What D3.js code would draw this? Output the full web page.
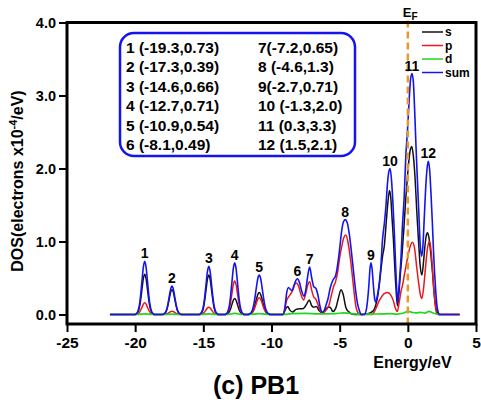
<!DOCTYPE html>
<html>
<head>
<meta charset="utf-8">
<script src="https://cdn.jsdelivr.net/npm/d3@7"></script>
<style>
  html, body { margin: 0; padding: 0; background: #fff; }
  svg { display: block; font-family: "Liberation Sans", Arial, Helvetica, sans-serif; font-weight: bold; }
</style>
</head>
<body>
<svg id="chart" width="481" height="407"></svg>
<script>
// Partial densities of states of PB1: [energy (eV), DOS (electrons x10^-4 / eV)]
const sDos = [
  [-21.85,0],
  [-20.02,0],[-19.92,0.007],[-19.8,0.033],[-19.7,0.088],[-19.6,0.198],[-19.5,0.347],[-19.4,0.49],[-19.3,0.55],[-19.2,0.49],[-19.1,0.347],[-19.0,0.198],[-18.9,0.088],[-18.8,0.033],[-18.68,0.007],[-18.58,0],
  [-18.02,0],[-17.92,0.004],[-17.8,0.02],[-17.7,0.054],[-17.6,0.122],[-17.5,0.214],[-17.4,0.303],[-17.3,0.34],[-17.2,0.303],[-17.1,0.214],[-17.0,0.122],[-16.9,0.054],[-16.8,0.02],[-16.68,0.004],[-16.58,0],
  [-15.32,0],[-15.22,0.006],[-15.1,0.032],[-15.0,0.086],[-14.9,0.194],[-14.8,0.34],[-14.7,0.48],[-14.6,0.54],[-14.5,0.48],[-14.4,0.34],[-14.3,0.194],[-14.2,0.086],[-14.1,0.032],[-13.98,0.006],[-13.88,0],
  [-13.42,0],[-13.32,0.003],[-13.2,0.013],[-13.1,0.035],[-13.0,0.079],[-12.9,0.139],[-12.8,0.196],[-12.7,0.22],[-12.6,0.196],[-12.5,0.139],[-12.4,0.079],[-12.3,0.035],[-12.2,0.013],[-12.08,0.003],[-11.98,0],
  [-11.75,0],[-11.62,0.003],[-11.5,0.013],[-11.4,0.034],[-11.3,0.075],[-11.2,0.138],[-11.1,0.213],[-11.0,0.276],[-10.9,0.30],[-10.8,0.276],[-10.7,0.213],[-10.6,0.138],[-10.5,0.075],[-10.4,0.034],[-10.3,0.013],[-10.18,0.003],[-10.05,0],
  [-9.15,0],[-9.0,0.06],[-8.82,0.11],[-8.65,0.06],[-8.45,0.035],[-8.2,0.07],[-7.95,0.08],[-7.7,0.08],[-7.4,0.15],[-7.23,0.2],[-7.05,0.12],[-6.9,0.1],[-6.7,0.11],[-6.5,0.05],[-6.3,0.02],
  [-6.1,0.05],[-5.85,0.1],[-5.7,0.1],[-5.5,0.04],[-5.3,0.08],[-5.1,0.22],[-4.9,0.34],[-4.75,0.28],[-4.55,0.1],[-4.35,0.04],[-4.15,0.01],[-3.9,0],
  [-3.4,0],[-3.0,0.01],[-2.7,0.03],[-2.5,0.06],[-2.35,0.13],[-2.22,0.24],[-2.1,0.4],[-1.98,0.6],[-1.86,0.79],[-1.72,0.95],[-1.61,1.2],[-1.48,1.5],[-1.35,1.7],[-1.25,1.6],
  [-1.15,1.3],[-1.05,1.0],[-0.95,0.62],[-0.85,0.3],[-0.76,0.12],[-0.65,0.3],[-0.55,0.55],[-0.44,0.79],[-0.3,1.15],[-0.14,1.62],[0.0,1.95],[0.1,2.15],[0.2,2.27],[0.29,2.3],
  [0.4,2.18],[0.54,1.84],[0.66,1.4],[0.78,1.02],[0.9,0.68],[1.03,0.54],[1.15,0.72],[1.25,0.93],[1.35,1.08],[1.44,1.12],[1.55,1.05],[1.68,0.84],[1.8,0.6],[1.93,0.29],
  [2.05,0.1],[2.17,0.03],[2.3,0],[3.8,0]
];

const pDos = [
  [-21.85,0],
  [-20.02,0],[-19.92,0.002],[-19.8,0.01],[-19.7,0.026],[-19.6,0.058],[-19.5,0.10],[-19.4,0.142],[-19.3,0.16],[-19.2,0.142],[-19.1,0.10],[-19.0,0.058],[-18.9,0.026],[-18.8,0.01],[-18.68,0.002],[-18.58,0],
  [-18.02,0],[-17.92,0.0005],[-17.8,0.003],[-17.7,0.007],[-17.6,0.016],[-17.5,0.028],[-17.4,0.04],[-17.3,0.045],[-17.2,0.04],[-17.1,0.028],[-17.0,0.016],[-16.9,0.007],[-16.8,0.003],[-16.68,0.0005],[-16.58,0],
  [-15.32,0],[-15.22,0.001],[-15.1,0.006],[-15.0,0.016],[-14.9,0.036],[-14.8,0.063],[-14.7,0.089],[-14.6,0.10],[-14.5,0.089],[-14.4,0.063],[-14.3,0.036],[-14.2,0.016],[-14.1,0.006],[-13.98,0.001],[-13.88,0],
  [-13.42,0],[-13.32,0.006],[-13.2,0.028],[-13.1,0.074],[-13.0,0.166],[-12.9,0.29],[-12.8,0.41],[-12.7,0.46],[-12.6,0.41],[-12.5,0.29],[-12.4,0.166],[-12.3,0.074],[-12.2,0.028],[-12.08,0.006],[-11.98,0],
  [-11.75,0],[-11.62,0.003],[-11.5,0.01],[-11.4,0.026],[-11.3,0.058],[-11.2,0.106],[-11.1,0.163],[-11.0,0.212],[-10.9,0.23],[-10.8,0.212],[-10.7,0.163],[-10.6,0.106],[-10.5,0.058],[-10.4,0.026],[-10.3,0.01],[-10.18,0.003],[-10.05,0],
  [-9.15,0],[-9.0,0.1],[-8.88,0.2],[-8.75,0.24],[-8.6,0.28],[-8.45,0.33],[-8.3,0.41],[-8.17,0.43],[-8.0,0.38],[-7.85,0.28],[-7.65,0.2],[-7.5,0.28],[-7.35,0.40],[-7.2,0.45],
  [-7.05,0.33],[-6.9,0.24],[-6.75,0.21],[-6.6,0.14],[-6.45,0.06],[-6.3,0.01],[-6.15,0.03],[-6.0,0.06],[-5.8,0.12],[-5.6,0.27],[-5.45,0.38],[-5.3,0.45],[-5.15,0.58],
  [-5.0,0.78],[-4.85,0.93],[-4.7,1.05],[-4.55,1.09],[-4.4,1.0],[-4.25,0.82],[-4.1,0.58],[-3.95,0.32],[-3.8,0.1],[-3.65,0.02],[-3.5,0],
  [-2.6,0],[-2.45,0.04],[-2.3,0.1],[-2.15,0.17],[-2.0,0.22],[-1.86,0.26],[-1.7,0.29],[-1.5,0.30],[-1.35,0.29],[-1.2,0.25],[-1.05,0.18],[-0.92,0.09],[-0.78,0.04],
  [-0.63,0.17],[-0.5,0.32],[-0.39,0.40],[-0.25,0.55],[-0.1,0.7],[0.1,0.88],[0.22,0.96],[0.34,0.99],[0.5,0.9],[0.65,0.65],[0.8,0.42],[0.92,0.27],[1.03,0.22],
  [1.15,0.35],[1.3,0.65],[1.45,0.92],[1.6,1.0],[1.72,0.85],[1.85,0.5],[1.95,0.25],[2.05,0.07],[2.15,0],[3.8,0]
];

const dDos = [
  [-21.85,0],[-19.9,0],[-19.3,0.01],[-18.7,0],[-17.9,0],[-17.3,0.006],[-16.7,0],[-15.2,0],[-14.6,0.01],[-14.0,0],[-13.3,0],[-12.7,0.015],[-12.1,0],
  [-11.7,0],[-10.9,0.012],[-10.1,0],[-9.15,0],[-8.5,0.012],[-7.5,0.015],[-6.6,0.01],[-6.0,0.01],[-5.3,0.012],[-4.7,0.022],[-4.0,0.01],[-3.4,0.003],
  [-2.7,0.006],[-1.9,0.008],[-1.3,0.012],[-0.76,0.006],[-0.3,0.02],[0.0,0.042],[0.3,0.03],[0.6,0.022],[0.95,0.028],[1.25,0.02],[1.55,0.042],[1.85,0.02],[2.3,0]
];

const sumDos = [
  [-21.85,0],
  [-20.02,0],[-19.92,0.009],[-19.8,0.044],[-19.7,0.117],[-19.6,0.263],[-19.5,0.46],[-19.4,0.65],[-19.3,0.73],[-19.2,0.65],[-19.1,0.46],[-19.0,0.263],[-18.9,0.117],[-18.8,0.044],[-18.68,0.009],[-18.58,0],
  [-18.02,0],[-17.92,0.005],[-17.8,0.023],[-17.7,0.062],[-17.6,0.14],[-17.5,0.246],[-17.4,0.347],[-17.3,0.39],[-17.2,0.347],[-17.1,0.246],[-17.0,0.14],[-16.9,0.062],[-16.8,0.023],[-16.68,0.005],[-16.58,0],
  [-15.32,0],[-15.22,0.008],[-15.1,0.04],[-15.0,0.106],[-14.9,0.238],[-14.8,0.416],[-14.7,0.587],[-14.6,0.66],[-14.5,0.587],[-14.4,0.416],[-14.3,0.238],[-14.2,0.106],[-14.1,0.04],[-13.98,0.008],[-13.88,0],
  [-13.42,0],[-13.32,0.009],[-13.2,0.043],[-13.1,0.114],[-13.0,0.256],[-12.9,0.447],[-12.8,0.632],[-12.7,0.71],[-12.6,0.632],[-12.5,0.447],[-12.4,0.256],[-12.3,0.114],[-12.2,0.043],[-12.08,0.009],[-11.98,0],
  [-11.75,0],[-11.62,0.006],[-11.5,0.024],[-11.4,0.062],[-11.3,0.135],[-11.2,0.248],[-11.1,0.383],[-11.0,0.497],[-10.9,0.54],[-10.8,0.497],[-10.7,0.383],[-10.6,0.248],[-10.5,0.135],[-10.4,0.062],[-10.3,0.024],[-10.18,0.006],[-10.05,0],
  [-9.15,0],[-9.0,0.12],[-8.9,0.28],[-8.75,0.37],[-8.6,0.34],[-8.48,0.33],[-8.35,0.40],[-8.2,0.47],[-8.1,0.49],[-7.95,0.44],[-7.8,0.33],[-7.62,0.25],[-7.5,0.32],
  [-7.35,0.52],[-7.2,0.65],[-7.05,0.50],[-6.9,0.38],[-6.75,0.36],[-6.6,0.27],[-6.45,0.12],[-6.3,0.03],
  [-6.15,0.05],[-6.0,0.13],[-5.85,0.22],[-5.7,0.36],[-5.5,0.47],[-5.3,0.53],[-5.15,0.68],[-5.0,0.90],[-4.85,1.15],[-4.72,1.27],[-4.6,1.30],[-4.45,1.26],
  [-4.3,1.11],[-4.15,0.88],[-4.0,0.62],[-3.85,0.36],[-3.7,0.16],[-3.55,0.05],[-3.42,0],
  [-3.2,0],[-3.05,0.06],[-2.95,0.2],[-2.85,0.42],[-2.78,0.62],[-2.7,0.71],[-2.62,0.62],[-2.52,0.38],[-2.42,0.2],[-2.35,0.17],[-2.25,0.24],
  [-2.1,0.42],[-1.98,0.65],[-1.86,1.02],[-1.72,1.25],[-1.6,1.5],[-1.5,1.78],[-1.4,1.95],[-1.3,2.0],[-1.2,1.85],[-1.1,1.55],[-1.0,1.16],[-0.9,0.70],[-0.82,0.35],[-0.76,0.16],
  [-0.68,0.3],[-0.58,0.55],[-0.5,0.78],[-0.4,1.2],[-0.27,1.6],[-0.14,2.2],[-0.03,2.5],[0.1,2.95],[0.2,3.22],[0.3,3.3],[0.4,3.2],[0.5,2.8],[0.6,2.3],[0.7,1.85],
  [0.8,1.42],[0.9,0.98],[1.0,0.8],[1.1,0.92],[1.2,1.3],[1.3,1.7],[1.4,1.98],[1.5,2.1],[1.6,1.98],[1.7,1.65],[1.8,1.25],[1.88,0.88],[1.96,0.58],[2.05,0.31],
  [2.15,0.1],[2.25,0.02],[2.35,0],[3.8,0]
];

// Labelled maxima of the total DOS
const peakIds    = [1, 2, 3, 4, 5, 6, 7, 8, 9, 10, 11, 12];
const peakEnergy = [-19.3, -17.3, -14.6, -12.7, -10.9, -8.1, -7.2, -4.6, -2.7, -1.3, 0.3, 1.5];
const peakHeight = [0.73, 0.39, 0.66, 0.71, 0.54, 0.49, 0.65, 1.3, 0.71, 2.0, 3.3, 2.1];

const xTicks = [-25, -20, -15, -10, -5, 0, 5];
const yTicks = [0, 1, 2, 3, 4];
const seriesNames = ["s", "p", "d", "sum"];
const fermiEnergy = 0;

// ---------------------------------------------------------------------------
const svg = d3.select("#chart");
const colors = { s: "#111111", p: "#e8181e", d: "#1ed81e", sum: "#1414ee" };
const widths = { s: 1.5, p: 1.5, d: 1.7, sum: 1.6 };
const seriesData = { s: sDos, p: pDos, d: dDos, sum: sumDos };

const x = d3.scaleLinear().domain([-25, 5]).range([67, 476]);
const y = d3.scaleLinear().domain([-0.13, 4]).range([324, 22.5]);

const line = d3.line()
  .x(d => x(d[0]))
  .y(d => y(d[1]))
  .curve(d3.curveMonotoneX);

// Curves: s, p, d underneath, total on top
seriesNames.forEach(name => {
  svg.append("path")
    .datum(seriesData[name])
    .attr("d", line)
    .attr("fill", "none")
    .attr("stroke", colors[name])
    .attr("stroke-width", widths[name])
    .attr("stroke-linejoin", "round");
});

// Fermi level
svg.append("line")
  .attr("x1", x(fermiEnergy)).attr("x2", x(fermiEnergy))
  .attr("y1", y.range()[1] - 2).attr("y2", y.range()[0])
  .attr("stroke", "#e69a2a")
  .attr("stroke-width", 2.5)
  .attr("stroke-dasharray", "7,4");

const ef = svg.append("text")
  .attr("x", x(fermiEnergy) - 5)
  .attr("y", 17)
  .attr("font-size", 13)
  .text("E");
ef.append("tspan").attr("font-size", 10).attr("dy", 3).text("F");

// Axes
const xAxis = d3.axisBottom(x).tickValues(xTicks).tickFormat(d => String(d)).tickSize(8).tickPadding(5);
const yAxis = d3.axisLeft(y).tickValues(yTicks).tickFormat(d3.format(".1f")).tickSize(8).tickPadding(3);

const gx = svg.append("g").attr("transform", `translate(0,${y.range()[0]})`).call(xAxis);
const gy = svg.append("g").attr("transform", `translate(${x.range()[0]},0)`).call(yAxis);
[gx, gy].forEach(g => {
  g.select(".domain").remove();
  g.selectAll(".tick line").attr("stroke", "#000").attr("stroke-width", 2);
  g.selectAll(".tick text")
    .attr("fill", "#000")
    .style("font-family", "'Liberation Sans', Arial, sans-serif")
    .style("font-weight", "bold");
});
gx.selectAll(".tick text").style("font-size", "15.5px");
gy.selectAll(".tick text").style("font-size", "14.5px");

// Frame
svg.append("rect")
  .attr("x", x.range()[0]).attr("y", y.range()[1])
  .attr("width", x.range()[1] - x.range()[0])
  .attr("height", y.range()[0] - y.range()[1])
  .attr("fill", "none")
  .attr("stroke", "#000")
  .attr("stroke-width", 3);

// Peak numbers above each maximum
svg.append("g").selectAll("text")
  .data(peakIds)
  .join("text")
  .attr("x", (d, i) => x(peakEnergy[i]))
  .attr("y", (d, i) => y(peakHeight[i]) - 3)
  .attr("text-anchor", "middle")
  .attr("font-size", 14)
  .text(d => d);

// Box listing peak positions and heights
svg.append("rect")
  .attr("x", 120).attr("y", 33).attr("width", 235).attr("height", 123)
  .attr("rx", 14).attr("ry", 14)
  .attr("fill", "none")
  .attr("stroke", "#1414ee")
  .attr("stroke-width", 2.5);

const fmtHeight = h => Math.abs(h * 10 - Math.round(h * 10)) < 1e-9 ? h.toFixed(1) : h.toFixed(2);
const tightIds = new Set([7, 9]);
const entries = peakIds.map((id, i) =>
  `${id}${tightIds.has(id) ? "" : " "}(${peakEnergy[i].toFixed(1)},${fmtHeight(peakHeight[i])})`);

svg.append("g").selectAll("text")
  .data(entries)
  .join("text")
  .attr("x", (d, i) => i < 6 ? 126 : 258)
  .attr("y", (d, i) => 52.5 + (i % 6) * 19.5)
  .attr("font-size", 15.5)
  .text(d => d);

// Legend
const legend = svg.append("g");
seriesNames.forEach((name, i) => {
  const ly = 32 + i * 13.5;
  legend.append("line")
    .attr("x1", 422).attr("x2", 443).attr("y1", ly).attr("y2", ly)
    .attr("stroke", colors[name]).attr("stroke-width", 1.5);
  legend.append("text")
    .attr("x", 445).attr("y", ly + 4)
    .attr("font-size", 12)
    .text(name);
});

// Axis titles
svg.append("text")
  .attr("x", 412.5).attr("y", 368)
  .attr("text-anchor", "middle")
  .attr("font-size", 16)
  .text("Energy/eV");

const yt = svg.append("text")
  .attr("transform", "translate(23,181) rotate(-90)")
  .attr("text-anchor", "middle")
  .attr("font-size", 16);
yt.append("tspan").text("DOS(electrons x10");
yt.append("tspan").attr("font-size", 11).attr("dy", -6).text("-4");
yt.append("tspan").attr("dy", 6).text("/eV)");

svg.append("text")
  .attr("x", 256).attr("y", 394)
  .attr("text-anchor", "middle")
  .attr("font-size", 25)
  .text("(c) PB1");
</script>
</body>
</html>
